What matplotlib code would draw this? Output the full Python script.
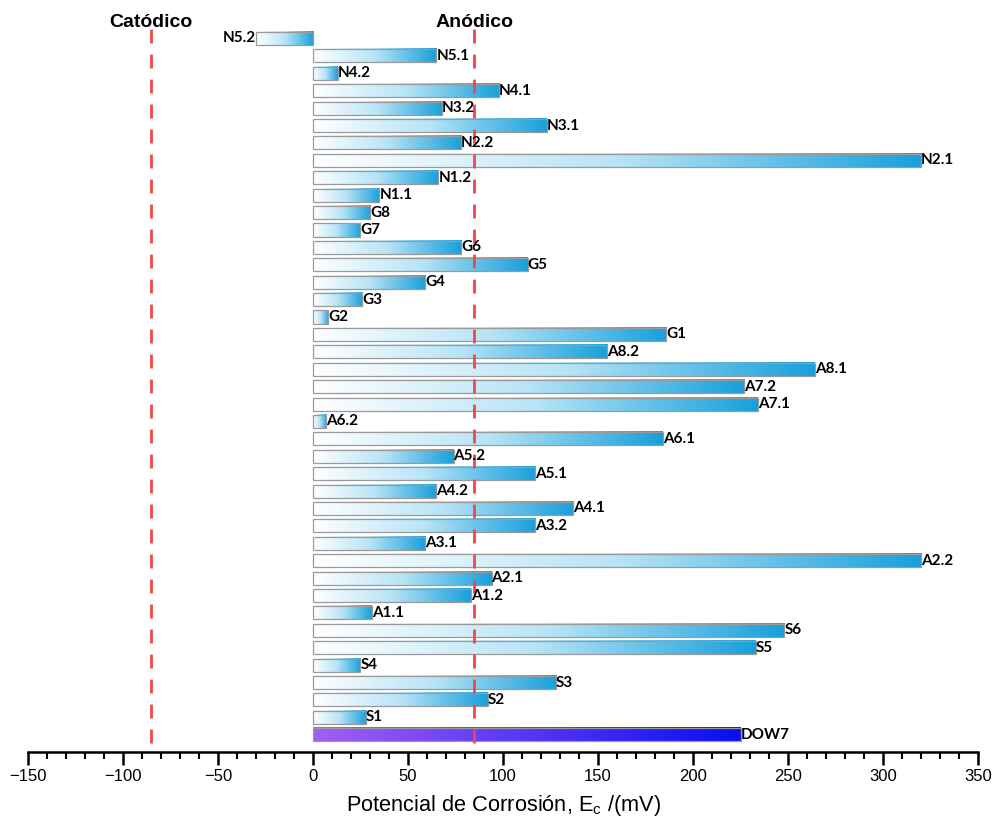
import numpy as np
import matplotlib.pyplot as plt
from matplotlib.colors import LinearSegmentedColormap
from matplotlib.ticker import MultipleLocator

plt.rcParams['font.family'] = ['Liberation Sans', 'DejaVu Sans']
plt.rcParams['mathtext.fontset'] = 'custom'
plt.rcParams['mathtext.rm'] = 'Liberation Sans'
plt.rcParams['mathtext.it'] = 'Liberation Sans'

# samples from bottom to top
muestras = ['DOW7', 'S1', 'S2', 'S3', 'S4', 'S5', 'S6',
            'A1.1', 'A1.2', 'A2.1', 'A2.2', 'A3.1', 'A3.2', 'A4.1', 'A4.2',
            'A5.1', 'A5.2', 'A6.1', 'A6.2', 'A7.1', 'A7.2', 'A8.1', 'A8.2',
            'G1', 'G2', 'G3', 'G4', 'G5', 'G6', 'G7', 'G8',
            'N1.1', 'N1.2', 'N2.1', 'N2.2', 'N3.1', 'N3.2', 'N4.1', 'N4.2',
            'N5.1', 'N5.2']
ecorr = [225, 28, 92, 128, 25, 233, 248,
         31, 83, 94, 320, 59, 117, 137, 65,
         117, 74, 184, 7, 234, 227, 264, 155,
         186, 8, 26, 59, 113, 78, 25, 30,
         35, 66, 320, 78, 123, 68, 98, 13,
         65, -30]
limites = [-85, 85]
zonas = ['Catódico', 'Anódico']

azul = LinearSegmentedColormap.from_list('azul', ['#ffffff', '#b8e4f6', '#18a0dc'])
violeta = LinearSegmentedColormap.from_list('violeta', ['#a35ef6', '#0a0ef2'])

fig = plt.figure(figsize=(9.93, 8.19), dpi=100)
ax = fig.add_axes([0.028, 0.082, 0.957, 0.888])

y = np.arange(len(muestras))
h = 0.75
grad = np.linspace(0, 1, 256).reshape(1, -1)

bars = ax.barh(y, ecorr, height=h, fill=False, edgecolor='#9a9a9a', linewidth=0.9, zorder=3)
for yi, v, nombre in zip(y, ecorr, muestras):
    cmap = violeta if nombre == 'DOW7' else azul
    x0, x1 = min(0, v), max(0, v)
    ax.imshow(grad, extent=[x0, x1, yi - h / 2, yi + h / 2], aspect='auto',
              cmap=cmap, zorder=2, interpolation='bicubic')
    ha = 'left' if v >= 0 else 'right'
    ax.text(v, yi, nombre, ha=ha, va='center', fontsize=11,
            fontweight='bold', family=['Lato', 'DejaVu Sans'], zorder=5)

for xl, zona in zip(limites, zonas):
    ax.plot([xl, xl], [-0.45, 40.6], color='#f04848', linestyle=(0, (5, 4)),
            linewidth=2, zorder=4)
    ax.text(xl, 40.9, zona, ha='center', va='center', fontsize=14,
            fontweight='bold', zorder=5)

ax.set_xlim(-150, 350)
ax.set_ylim(-0.98, 40.8)
ax.set_yticks([])
for s in ['left', 'right', 'top']:
    ax.spines[s].set_visible(False)
ax.spines['bottom'].set_linewidth(1.8)
ax.xaxis.set_major_locator(MultipleLocator(50))
ax.xaxis.set_minor_locator(MultipleLocator(10))
ax.tick_params(axis='x', which='major', length=9, width=1.8, labelsize=12)
ax.tick_params(axis='x', which='minor', length=5, width=1.5)
ax.set_xlabel('Potencial de Corrosión, E$_\\mathrm{c}$ /(mV)', fontsize=15.7, labelpad=6)

fig.savefig('out.png', dpi=100)
